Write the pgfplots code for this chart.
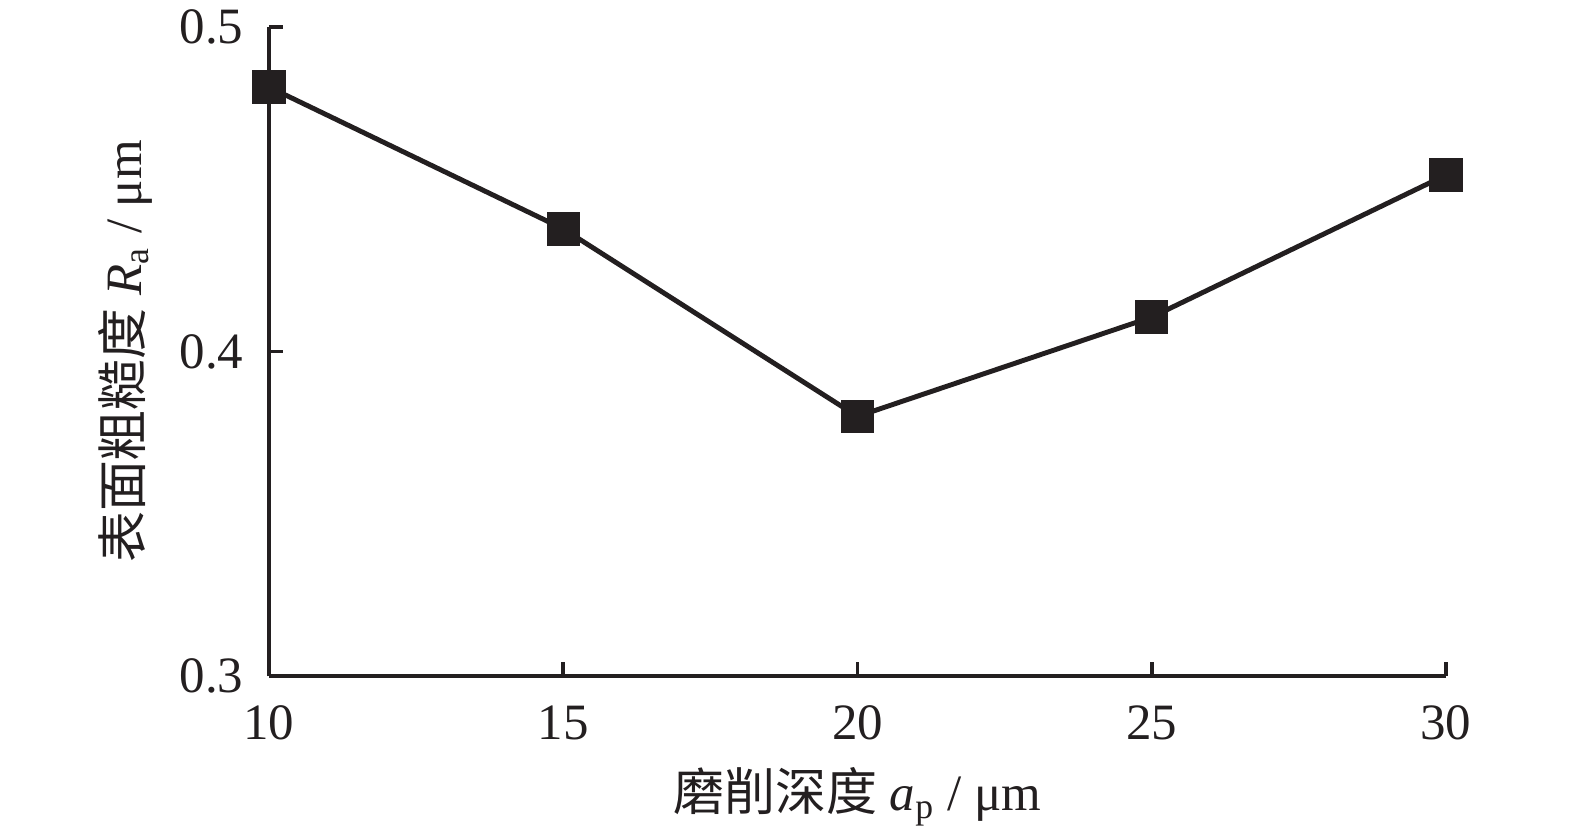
\documentclass[border=0pt]{standalone}
\usepackage{fontspec}
\setmainfont{Liberation Serif}
\newfontfamily\cjk{Noto Sans CJK SC}
\usepackage{pgfplots}
\pgfplotsset{compat=1.18}
\definecolor{ink}{HTML}{231F20}

\begin{document}
\fontsize{14.5}{17}\selectfont
\begin{tikzpicture}
  \begin{axis}[
      scale only axis,
      width=11.77cm,
      height=6.49cm,
      xmin=10, xmax=30,
      ymin=0.3, ymax=0.5,
      xtick={10,15,20,25,30},
      ytick={0.3,0.4,0.5},
      axis x line*=bottom,
      axis y line*=left,
      axis line style={line width=1.1pt, color=ink},
      tick style={line width=1.1pt, color=ink},
      tick align=inside,
      major tick length=0.14cm,
      /pgf/number format/assume math mode=true,
      /pgf/number format/fixed,
      /pgf/number format/fixed zerofill,
      yticklabel style={/pgf/number format/precision=1, color=ink, xshift=-0.08cm},
      xticklabel style={yshift=-0.12cm, color=ink, /pgf/number format/precision=0},
      xlabel={{\cjk 磨削深度} \textit{a}\textsubscript{p} / μm},
      ylabel={{\cjk 表面粗糙度} \textit{R}\textsubscript{a} / μm},
      xlabel style={at={(axis description cs:0.5,-0.1864)}, anchor=center, color=ink},
      ylabel style={at={(axis description cs:-0.1223,0.5)}, anchor=center, color=ink},
      clip=false,
    ]
    \addplot[color=ink, line width=1.4pt, mark=square*, mark size=4.5pt,
             mark options={fill=ink, draw=ink, line width=0.5pt}]
      coordinates {(10,0.4815) (15,0.4378) (20,0.380) (25,0.4106) (30,0.4544)};
    \coordinate (o) at (rel axis cs:0,0);
  \end{axis}
  \pgfresetboundingbox
  \path ([xshift=-2.69cm,yshift=-1.57cm]o) rectangle ++(15.75cm,8.33cm);
\end{tikzpicture}
\end{document}
